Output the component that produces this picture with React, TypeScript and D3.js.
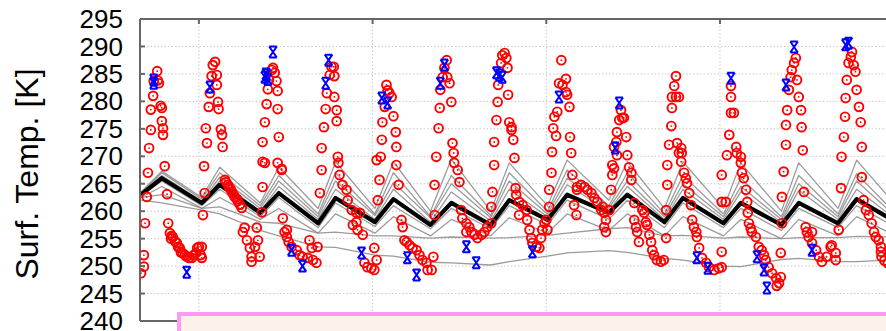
import React from "react";
import * as d3 from "d3";

// time in sols, temperature in K
const keyTimes = [0, 0.36, 1.05, 1.36, 2.06, 2.38, 3.06, 3.36, 4.04, 4.36, 5.0, 5.36, 6.04, 6.36, 7.02, 7.36, 8.08, 8.4, 9.04, 9.36, 10.06, 10.36, 11.06, 11.36, 12.04, 12.36, 13.04, 13.36];

const meanTemp = [263.0, 266.0, 261.5, 264.8, 259.7, 263.3, 257.8, 262.4, 258.0, 262.2, 257.5, 261.5, 257.5, 262.0, 258.4, 263.0, 259.7, 263.0, 258.0, 262.4, 257.8, 261.5, 257.5, 261.5, 257.8, 262.2, 258.0, 262.0];

const member1 = [263.5, 267.3, 262.5, 268.0, 261.5, 268.0, 260.5, 269.0, 260.5, 269.0, 260.0, 269.5, 260.0, 268.8, 261.0, 269.3, 262.0, 269.0, 260.5, 269.0, 260.5, 268.8, 260.0, 268.8, 260.5, 269.3, 261.0, 269.0];
const member2 = [263.3, 267.0, 262.2, 267.0, 261.0, 266.5, 259.5, 267.0, 259.5, 267.0, 259.0, 266.5, 259.2, 267.0, 260.0, 267.5, 261.0, 267.0, 259.5, 266.5, 259.5, 266.0, 259.0, 266.5, 259.5, 266.8, 259.5, 266.5];
const member3 = [263.2, 266.5, 261.8, 266.2, 260.5, 265.5, 259.0, 265.5, 259.2, 265.2, 258.8, 265.0, 258.8, 265.5, 259.5, 266.0, 260.5, 265.5, 259.0, 265.0, 259.0, 264.5, 258.5, 265.0, 259.0, 265.5, 259.0, 265.0];
const member4 = [263.0, 266.2, 261.5, 265.5, 260.0, 264.5, 258.5, 264.0, 258.5, 264.0, 258.0, 263.5, 258.2, 264.0, 259.0, 264.8, 260.0, 264.5, 258.5, 264.0, 258.5, 263.5, 258.0, 263.8, 258.5, 264.0, 258.5, 264.0];
const member5 = [262.8, 265.5, 261.0, 264.0, 259.0, 262.5, 257.0, 261.5, 257.2, 261.0, 256.8, 260.5, 256.8, 261.0, 257.5, 262.0, 258.5, 262.0, 257.0, 261.5, 257.0, 260.5, 256.5, 260.5, 257.0, 261.0, 257.0, 261.0];
const member6 = [262.5, 264.5, 260.5, 262.5, 258.5, 260.5, 256.0, 259.5, 256.0, 259.0, 255.5, 258.5, 255.5, 258.8, 256.0, 259.5, 256.5, 259.5, 255.5, 259.0, 255.5, 258.5, 255.0, 258.5, 255.5, 259.0, 255.5, 259.0];
const member7 = [262.5, 263.0, 260.5, 260.8, 258.0, 257.8, 256.0, 256.2, 255.5, 255.5, 255.1, 255.3, 255.1, 255.2, 255.6, 256.0, 256.8, 257.0, 255.5, 255.6, 255.1, 255.3, 255.0, 255.2, 255.2, 255.4, 255.3, 255.4];
const member8 = [262.0, 261.5, 260.2, 259.5, 256.5, 255.5, 253.5, 253.4, 252.0, 251.8, 250.7, 250.6, 250.2, 250.8, 251.8, 252.4, 252.8, 252.5, 251.4, 251.1, 250.0, 249.9, 251.2, 251.4, 250.8, 250.8, 251.2, 251.3];

const members = [member1, member2, member3, member4, member5, member6, member7, member8];

// model points (red circles): [sol, K]
const modelPoints: [number, number][] = [
  [0.00, 248.7], [0.05, 249.9], [0.05, 252.0], [0.07, 257.8], [0.10, 262.6], [0.12, 267.0], [0.14, 271.5], [0.17, 274.8], [0.17, 278.5], [0.21, 281.0], [0.22, 283.7], [0.28, 285.5], [0.29, 283.8], [0.31, 283.3], [0.34, 279.2], [0.36, 278.8], [0.36, 276.4], [0.38, 275.1], [0.38, 273.9], [0.41, 268.2], [0.45, 263.1], [0.47, 257.8],
  [0.50, 256.0], [0.52, 255.0], [0.53, 255.5], [0.55, 255.3], [0.59, 254.5], [0.62, 254.2], [0.64, 253.5], [0.67, 253.3], [0.69, 252.5], [0.72, 252.4], [0.76, 252.0], [0.79, 251.7], [0.83, 251.5], [0.88, 251.5], [0.91, 252.0], [0.95, 252.4], [0.97, 253.3], [1.00, 253.5], [1.03, 252.0], [1.05, 253.5], [1.05, 251.5],
  [1.07, 259.3], [1.10, 263.3], [1.09, 268.2], [1.14, 272.4], [1.12, 275.1], [1.17, 279.0], [1.19, 281.5], [1.22, 284.6], [1.24, 286.6], [1.28, 287.2], [1.31, 284.8], [1.31, 283.0], [1.33, 279.9], [1.34, 278.6], [1.38, 274.9], [1.40, 273.9], [1.41, 271.7],
  [1.45, 265.7], [1.47, 265.3], [1.50, 264.8], [1.52, 264.4], [1.55, 264.0], [1.57, 263.5], [1.60, 263.0], [1.62, 262.6], [1.66, 262.2], [1.67, 261.8], [1.71, 261.2], [1.74, 260.6],
  [1.76, 256.2], [1.79, 257.0], [1.83, 254.7], [1.88, 253.3], [1.91, 251.7], [1.91, 250.8], [1.97, 253.5], [2.00, 257.0], [2.02, 254.7], [2.05, 251.7], [2.09, 259.8],
  [2.10, 264.4], [2.10, 269.0], [2.14, 268.8], [2.10, 272.6], [2.14, 276.2], [2.17, 279.5], [2.19, 282.2], [2.21, 283.9], [2.26, 285.7], [2.28, 286.1], [2.31, 285.2], [2.34, 283.7], [2.36, 281.9], [2.36, 278.6], [2.38, 273.5], [2.36, 268.8], [2.43, 267.7], [2.43, 267.5], [2.45, 258.7],
  [2.48, 256.2], [2.52, 256.6], [2.52, 255.3], [2.55, 254.4], [2.60, 253.5], [2.69, 252.9], [2.74, 252.0], [2.79, 251.7], [2.88, 251.5], [2.97, 251.1], [3.03, 250.6], [2.91, 254.7], [2.95, 253.3], [3.05, 253.5],
  [3.09, 263.3], [3.12, 267.5], [3.12, 271.5], [3.16, 275.3], [3.19, 278.6], [3.21, 281.5], [3.26, 284.8], [3.29, 286.3], [3.33, 286.3], [3.34, 284.6], [3.34, 280.8], [3.38, 278.4], [3.38, 276.4], [3.40, 269.9], [3.41, 268.8], [3.43, 266.6], [3.48, 264.8], [3.55, 263.9], [3.57, 262.0], [3.64, 260.2], [3.72, 259.7], [3.78, 259.7], [3.72, 258.0], [3.74, 256.6], [3.66, 257.5], [3.83, 255.7], [4.03, 253.3], [4.07, 251.1], [3.86, 250.6], [3.91, 249.8], [3.98, 249.6], [4.03, 249.3],
  [4.09, 262.0], [4.12, 265.7], [4.07, 269.3], [4.14, 269.9], [4.16, 273.0], [4.17, 276.2], [4.21, 279.0], [4.24, 283.0], [4.26, 282.0], [4.29, 281.5], [4.33, 280.8], [4.36, 277.3], [4.40, 274.4], [4.41, 271.7], [4.41, 268.4], [4.45, 264.8], [4.50, 258.4], [4.52, 257.1], [4.55, 254.7], [4.59, 254.4], [4.64, 253.8], [4.69, 253.3], [4.76, 252.9], [4.81, 252.0], [4.86, 251.1], [4.93, 250.6], [4.95, 249.3], [5.02, 249.3], [5.05, 251.7],
  [5.07, 259.3], [5.07, 264.8], [5.10, 269.9], [5.14, 275.1], [5.16, 278.8], [5.17, 282.1], [5.21, 284.4], [5.24, 286.1], [5.28, 287.5], [5.29, 284.4], [5.33, 283.3], [5.36, 279.9], [5.38, 272.4], [5.40, 270.6], [5.41, 268.8], [5.47, 267.5], [5.50, 265.3], [5.53, 260.2], [5.55, 258.7], [5.62, 257.8], [5.62, 256.2], [5.67, 257.1], [5.71, 256.2], [5.76, 255.7], [5.81, 255.1], [5.88, 255.7], [5.93, 256.2], [5.98, 257.1], [6.05, 257.8], [6.05, 260.8], [6.07, 263.5],
  [6.10, 268.4], [6.10, 272.6], [6.14, 276.6], [6.16, 279.9], [6.17, 283.0], [6.22, 287.0], [6.24, 288.4], [6.28, 288.8], [6.31, 287.9], [6.33, 286.1], [6.34, 281.2], [6.36, 276.2], [6.40, 275.3], [6.40, 274.8], [6.43, 273.0], [6.45, 269.7], [6.47, 264.2], [6.48, 263.0], [6.53, 261.7], [6.59, 261.1], [6.66, 260.2], [6.53, 259.3], [6.67, 258.4], [6.71, 256.6], [6.74, 255.1], [6.76, 254.2], [6.83, 253.5], [6.88, 253.3], [6.91, 255.1], [6.93, 256.6], [6.97, 257.8], [7.00, 258.4], [7.02, 256.6], [7.05, 260.8], [7.05, 263.9], [7.09, 267.0],
  [7.10, 270.8], [7.12, 275.1], [7.14, 277.2], [7.17, 273.7], [7.19, 278.1], [7.22, 283.3], [7.26, 287.5], [7.28, 283.0], [7.34, 284.1], [7.34, 281.7], [7.36, 281.2], [7.40, 279.0], [7.41, 273.5], [7.43, 270.6], [7.45, 266.6], [7.48, 261.1], [7.52, 259.3], [7.53, 263.9], [7.53, 264.4], [7.60, 264.8], [7.66, 264.4], [7.71, 263.9], [7.78, 263.3], [7.83, 262.4], [7.88, 261.7], [7.97, 260.8], [7.95, 260.2], [8.00, 259.7], [8.03, 258.4], [8.00, 257.1], [8.03, 256.2], [8.09, 260.2],
  [8.12, 263.9], [8.14, 266.6], [8.14, 268.4], [8.17, 267.8], [8.22, 270.2], [8.17, 271.7], [8.21, 272.6], [8.22, 274.4], [8.26, 276.6], [8.29, 278.4], [8.31, 277.0], [8.34, 277.0], [8.38, 273.5], [8.40, 270.2], [8.43, 268.0], [8.47, 267.0], [8.47, 265.7], [8.52, 261.5], [8.52, 258.4], [8.55, 257.1], [8.57, 256.2], [8.60, 254.4], [8.66, 260.2], [8.69, 259.7], [8.72, 258.0], [8.74, 257.5], [8.78, 255.7], [8.81, 254.4], [8.83, 252.9], [8.86, 252.0], [8.91, 251.1], [8.98, 250.8], [9.03, 251.1], [9.07, 260.2], [9.07, 255.1],
  [9.09, 264.8], [9.09, 268.4], [9.12, 272.1], [9.16, 275.5], [9.17, 278.8], [9.17, 280.8], [9.21, 282.8], [9.24, 284.6], [9.24, 280.8], [9.29, 280.8], [9.26, 272.4], [9.29, 270.6], [9.33, 271.5], [9.34, 270.6], [9.33, 269.0], [9.38, 267.0], [9.41, 266.0], [9.43, 265.1], [9.47, 263.3], [9.50, 261.1], [9.52, 258.4], [9.55, 257.1], [9.59, 256.2], [9.60, 255.3], [9.64, 253.3], [9.69, 251.5], [9.76, 250.6], [9.81, 249.8], [9.90, 249.3], [9.98, 249.6], [10.03, 249.8], [10.03, 252.6], [10.03, 261.7], [10.03, 266.6],
  [10.10, 261.7], [10.12, 270.2], [10.16, 273.9], [10.19, 277.9], [10.24, 277.9], [10.19, 280.8], [10.19, 282.8], [10.28, 271.7], [10.29, 270.6], [10.36, 269.9], [10.36, 268.8], [10.38, 267.0], [10.41, 266.0], [10.45, 263.9], [10.47, 261.7], [10.48, 259.7], [10.50, 257.8], [10.53, 256.9], [10.55, 256.2], [10.62, 255.3], [10.67, 253.5], [10.72, 252.9], [10.76, 252.0], [10.79, 251.1], [10.84, 249.8], [10.90, 248.7], [10.97, 247.8], [11.02, 246.9], [10.98, 246.4], [11.05, 248.0], [11.05, 252.4], [11.07, 257.8], [11.07, 262.6],
  [11.10, 267.2], [11.14, 272.1], [11.14, 275.7], [11.16, 278.4], [11.19, 282.1], [11.22, 284.4], [11.24, 285.7], [11.28, 287.0], [11.31, 287.9], [11.33, 283.9], [11.36, 280.8], [11.40, 278.4], [11.41, 275.3], [11.43, 271.1], [11.45, 263.5], [11.48, 257.1], [11.50, 256.2], [11.59, 256.2], [11.53, 255.3], [11.59, 254.2], [11.66, 252.9], [11.71, 251.7], [11.76, 250.8], [11.84, 251.7], [11.91, 253.5], [11.93, 253.8], [12.00, 252.4], [12.00, 251.1], [12.05, 256.6], [12.09, 264.2],
  [12.10, 269.9], [12.14, 273.5], [12.16, 277.2], [12.17, 280.6], [12.19, 283.9], [12.22, 287.0], [12.26, 288.1], [12.28, 289.0], [12.31, 286.6], [12.34, 285.4], [12.36, 282.1], [12.40, 279.0], [12.43, 276.2], [12.45, 271.7], [12.45, 266.2], [12.48, 262.0], [12.52, 260.2], [12.57, 259.3], [12.62, 257.8], [12.66, 256.2], [12.69, 255.3], [12.74, 254.7], [12.78, 253.5], [12.78, 252.6], [12.79, 251.7], [12.84, 251.0], [12.90, 250.5],
];

// observations (blue): [sol, K]
const obsPoints: [number, number][] = [
  [0.22, 283.9], [0.22, 283.3], [0.79, 248.9], [1.19, 282.6], [2.28, 289.0], [2.14, 284.4], [2.17, 284.8], [2.19, 284.0], [2.16, 285.0],
  [2.60, 252.9], [2.79, 250.0], [3.24, 287.5], [3.19, 283.3], [3.81, 252.4], [4.16, 280.6], [4.26, 279.7], [4.60, 251.5], [4.76, 248.4],
  [5.24, 286.6], [5.17, 283.3], [5.62, 253.5], [5.79, 250.6], [6.14, 285.2], [6.19, 284.8], [6.24, 284.4], [6.76, 252.6], [7.22, 280.8],
  [8.19, 271.5], [8.26, 279.7], [9.60, 251.5], [9.79, 249.6], [10.19, 284.2], [10.64, 251.7], [10.76, 249.3], [10.81, 246.0],
  [11.28, 289.9], [11.14, 283.0], [11.59, 252.9], [12.17, 290.3], [12.22, 290.6],
];

const yTicks = [240, 245, 250, 255, 260, 265, 270, 275, 280, 285, 290, 295];
const xGridSols = [1, 4, 7, 10, 13];

const W = 886;
const H = 331;
const left = 140;
const top = 19;
const bottom = 321;
const pxPerSol = 57.9;

export default function App() {
  const x = d3.scaleLinear().domain([-0.017, 13.5]).range([left, left + 13.517 * pxPerSol]);
  const y = d3.scaleLinear().domain([240, 295]).range([bottom, top]);

  const line = d3
    .line<number>()
    .x((_, i) => x(keyTimes[i]))
    .y((d) => y(d));

  const right = W + 20;
  const obsPath = "M-3.8,-5.5H3.8M-3.8,5.5H3.8M-3.8,-5.5L3.8,5.5M3.8,-5.5L-3.8,5.5";

  return (
    <div style={{ position: "fixed", left: 0, top: 0 }}>
      <svg width={W} height={H} style={{ display: "block", fontFamily: "'Liberation Sans', Arial, sans-serif" }}>
        <defs>
          <clipPath id="plot">
            <rect x={left} y={top} width={right - left} height={bottom - top} />
          </clipPath>
        </defs>
        <rect width={W} height={H} fill="#fff" />

        {/* grid */}
        <g stroke="#c8c8c8" strokeDasharray="1.5,2" strokeWidth={1}>
          {yTicks.slice(1, -1).map((t) => (
            <line key={t} x1={left} x2={right} y1={y(t)} y2={y(t)} />
          ))}
          {xGridSols.map((s) => (
            <line key={s} x1={x(s)} x2={x(s)} y1={top} y2={bottom} />
          ))}
        </g>

        <g clipPath="url(#plot)">
          {members.map((m, i) => (
            <path key={i} d={line(m) ?? ""} fill="none" stroke="#8a8a8a" strokeOpacity={0.85} strokeWidth={1.3} strokeLinejoin="round" />
          ))}
          <path d={line(meanTemp) ?? ""} fill="none" stroke="#000" strokeWidth={4.2} strokeLinejoin="round" />

          {modelPoints.map(([t, k], i) => (
            <g key={i} transform={`translate(${x(t)},${y(k)})`}>
              <circle r={4.4} fill="none" stroke="#ff0000" strokeWidth={1.9} />
              <circle r={0.9} fill="#ff0000" />
            </g>
          ))}
          {obsPoints.map(([t, k], i) => (
            <path key={i} d={obsPath} transform={`translate(${x(t)},${y(k)})`} fill="none" stroke="#0000ff" strokeWidth={2} />
          ))}
        </g>

        {/* frame */}
        <g stroke="#666" strokeWidth={2} fill="none">
          <line x1={left} x2={right} y1={top} y2={top} />
          <line x1={left} x2={left} y1={top} y2={bottom} />
          <line x1={left} x2={right} y1={bottom} y2={bottom} />
          {yTicks.map((t) => (
            <line key={t} x1={left} x2={left + 5} y1={y(t)} y2={y(t)} />
          ))}
          {xGridSols.map((s) => (
            <line key={s} x1={x(s)} x2={x(s)} y1={top} y2={top + 5} />
          ))}
        </g>

        {/* y tick labels */}
        <g fontSize={26} textAnchor="end" fill="#000">
          {yTicks.map((t) => (
            <text key={t} x={123} y={y(t)} dy="0.35em">
              {t}
            </text>
          ))}
        </g>
        <text transform="translate(38,174) rotate(-90)" textAnchor="middle" fontSize={32} fill="#000">
          Surf. Temp. [K]
        </text>

        {/* legend box (cropped) */}
        <rect x={179} y={314} width={800} height={60} fill="#fdf2ea" stroke="#ff99f5" strokeWidth={4} />
      </svg>
    </div>
  );
}
